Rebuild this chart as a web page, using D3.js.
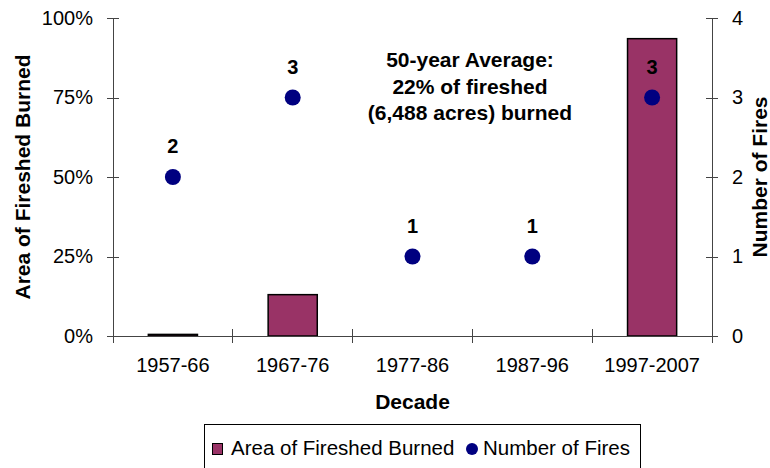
<!DOCTYPE html>
<html>
<meta charset="utf-8">
<style>
body { margin: 0; background: #fff; }
text { font-family: "Liberation Sans", Arial, sans-serif; fill: #000; }
.axis path, .axis line { stroke: #444; shape-rendering: crispEdges; }
.axis text { font-size: 20px; }
.title { font-size: 21px; font-weight: bold; }
</style>
<body>
<script src="https://d3js.org/d3.v7.min.js"></script>
<script>
// data
var decades = ["1957-66", "1967-76", "1977-86", "1987-96", "1997-2007"];
var areaBurned = [0.005, 0.13, 0, 0, 0.935];   // share of fireshed
var fireCount = [2, 3, 1, 1, 3];
var leftTicks = [0, 0.25, 0.5, 0.75, 1];
var rightTicks = [0, 1, 2, 3, 4];
var noteLines = ["50-year Average:", "22% of fireshed", "(6,488 acres) burned"];

var width = 770, height = 468;
var plot = {left: 113, right: 712, top: 18, bottom: 336};

var svg = d3.select("body").append("svg")
    .attr("width", width)
    .attr("height", height);

var x = d3.scaleBand().domain(decades).range([plot.left, plot.right]).padding(0);
var y = d3.scaleLinear().domain([0, 1]).range([plot.bottom, plot.top]);
var y2 = d3.scaleLinear().domain([0, 4]).range([plot.bottom, plot.top]);

// bars
var barFrac = 0.41;
svg.append("g").selectAll("rect")
    .data(decades)
  .enter().append("rect")
    .attr("x", function(d) { return x(d) + x.bandwidth() * (1 - barFrac) / 2; })
    .attr("width", x.bandwidth() * barFrac)
    .attr("y", function(d, i) { return y(areaBurned[i]); })
    .attr("height", function(d, i) { return y(0) - y(areaBurned[i]); })
    .style("fill", "#993366")
    .style("stroke", "#000")
    .style("stroke-width", 1.5)
    .style("display", function(d, i) { return areaBurned[i] > 0 ? null : "none"; });

// left axis
var yAxis = d3.axisLeft(y).tickValues(leftTicks).tickFormat(d3.format(".0%")).tickSize(6).tickPadding(14);
var gl = svg.append("g").attr("class", "axis")
    .attr("transform", "translate(" + plot.left + ",0)")
    .call(yAxis);
gl.select(".domain").remove();
gl.append("line").attr("y1", plot.top).attr("y2", plot.bottom);
gl.selectAll(".tick line").attr("x1", 6).attr("x2", -6);

// right axis
var yAxis2 = d3.axisRight(y2).tickValues(rightTicks).tickFormat(d3.format("d")).tickSize(6).tickPadding(14);
var gr = svg.append("g").attr("class", "axis")
    .attr("transform", "translate(" + plot.right + ",0)")
    .call(yAxis2);
gr.select(".domain").remove();
gr.append("line").attr("y1", plot.top).attr("y2", plot.bottom);
gr.selectAll(".tick line").attr("x1", -6).attr("x2", 6);

// x axis: labels in band centres, ticks on band edges
var xAxis = d3.axisBottom(x).tickSize(0).tickPadding(22);
var gx = svg.append("g").attr("class", "axis")
    .attr("transform", "translate(0," + plot.bottom + ")")
    .call(xAxis);
gx.select(".domain").remove();
gx.append("line").attr("x1", plot.left).attr("x2", plot.right);
gx.selectAll(".edge")
    .data(decades.map(function(d) { return x(d); }).concat([plot.right]))
  .enter().append("line")
    .attr("class", "edge")
    .attr("x1", function(d) { return d; })
    .attr("x2", function(d) { return d; })
    .attr("y1", -7)
    .attr("y2", 7);

// fire dots and their labels
var cx = function(d, i) { return x(decades[i]) + x.bandwidth() / 2; };
svg.append("g").selectAll("circle")
    .data(fireCount)
  .enter().append("circle")
    .attr("cx", cx)
    .attr("cy", function(d) { return y2(d); })
    .attr("r", 8)
    .style("fill", "#000080");

svg.append("g").selectAll("text")
    .data(fireCount)
  .enter().append("text")
    .attr("x", cx)
    .attr("y", function(d) { return y2(d) - 24; })
    .attr("text-anchor", "middle")
    .style("font-size", "20px")
    .style("font-weight", "bold")
    .text(function(d) { return d; });

// note
svg.append("g").selectAll("text")
    .data(noteLines)
  .enter().append("text")
    .attr("x", 470)
    .attr("y", function(d, i) { return 67 + i * 26.5; })
    .attr("text-anchor", "middle")
    .style("font-size", "21px")
    .style("font-weight", "bold")
    .text(function(d) { return d; });

// axis titles
svg.append("text").attr("class", "title")
    .attr("transform", "translate(30," + ((plot.top + plot.bottom) / 2) + ") rotate(-90)")
    .attr("text-anchor", "middle")
    .text("Area of Fireshed Burned");

svg.append("text").attr("class", "title")
    .attr("transform", "translate(767," + ((plot.top + plot.bottom) / 2) + ") rotate(-90)")
    .attr("text-anchor", "middle")
    .text("Number of Fires");

svg.append("text").attr("class", "title")
    .attr("x", (plot.left + plot.right) / 2)
    .attr("y", 409)
    .attr("text-anchor", "middle")
    .text("Decade");

// legend
var legend = svg.append("g");
legend.append("rect")
    .attr("x", 204.5).attr("y", 424.5)
    .attr("width", 436).attr("height", 60)
    .style("fill", "none").style("stroke", "#000");
legend.append("rect")
    .attr("x", 212.5).attr("y", 443.5)
    .attr("width", 10).attr("height", 11)
    .style("fill", "#993366").style("stroke", "#000");
legend.append("text")
    .attr("x", 231).attr("y", 455)
    .style("font-size", "20.5px")
    .text("Area of Fireshed Burned");
legend.append("circle")
    .attr("cx", 472).attr("cy", 449).attr("r", 6)
    .style("fill", "#000080");
legend.append("text")
    .attr("x", 483).attr("y", 455)
    .style("font-size", "20.5px")
    .text("Number of Fires");
</script>
</body>
</html>
